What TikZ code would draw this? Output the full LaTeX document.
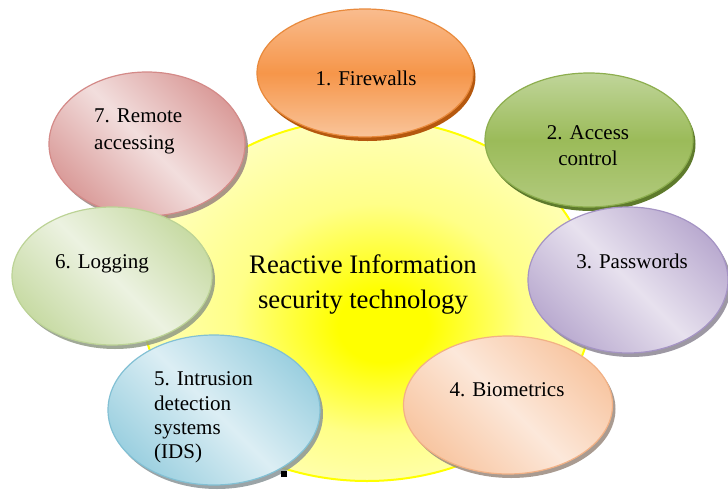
\documentclass[tikz,border=0pt]{standalone}
\usepackage{fontspec}
\setmainfont{Liberation Serif}
\usetikzlibrary{shapes.geometric,shadows}
\definecolor{cYel}{HTML}{FFFF00}
\definecolor{cYelM}{HTML}{FFFF88}
\definecolor{cYelL}{HTML}{FFFFC8}
\definecolor{fwT}{HTML}{F9BC8E}
\definecolor{fwM}{HTML}{F6964A}
\definecolor{fwB}{HTML}{F9C49A}
\definecolor{fwD}{HTML}{E98A3C}
\definecolor{fwR}{HTML}{B5580E}
\definecolor{acT}{HTML}{C0D59A}
\definecolor{acM}{HTML}{9BBB59}
\definecolor{acB}{HTML}{B2CA7E}
\definecolor{acD}{HTML}{8DAE4E}
\definecolor{acR}{HTML}{5E7A2C}
\definecolor{pwK}{HTML}{BAABD0}
\definecolor{pwL}{HTML}{E7E1EE}
\definecolor{pwD}{HTML}{A594C4}
\definecolor{pwS}{HTML}{8C8794}
\definecolor{bmK}{HTML}{F8C6A2}
\definecolor{bmL}{HTML}{FCE8DA}
\definecolor{bmD}{HTML}{F2B185}
\definecolor{bmS}{HTML}{9B8A7E}
\definecolor{idK}{HTML}{9CD0E0}
\definecolor{idL}{HTML}{DCEEF4}
\definecolor{idD}{HTML}{82C0D4}
\definecolor{idS}{HTML}{8A9598}
\definecolor{lgK}{HTML}{C8DBA5}
\definecolor{lgL}{HTML}{ECF2E1}
\definecolor{lgD}{HTML}{BCD396}
\definecolor{lgS}{HTML}{909A85}
\definecolor{rmK}{HTML}{DA9C9A}
\definecolor{rmL}{HTML}{F2DEDD}
\definecolor{rmD}{HTML}{D48A88}
\definecolor{rmS}{HTML}{9A8480}
\pgfdeclareradialshading{ctrshade}{\pgfpoint{2bp}{-4bp}}{color(0bp)=(cYel); color(5bp)=(cYel); color(16bp)=(cYelM); color(30bp)=(cYelL); color(50bp)=(cYelL)}
\tikzset{
  oval/.style={ellipse, inner sep=0pt, line width=1.2pt},
  rimshadow/.style={drop shadow={shadow xshift=2.5pt, shadow yshift=-4pt, fill=#1, opacity=1}},
  grayshadow/.style={drop shadow={shadow xshift=3pt, shadow yshift=-4pt, fill=#1, opacity=0.85}},
  diag/.style n args={2}{top color=#1, bottom color=#1, middle color=#2, shading angle=-45},
  lbl/.style={font=\fontsize{21}{25}\selectfont, inner sep=0pt, anchor=base},
  lbll/.style={font=\fontsize{21}{25}\selectfont, inner sep=0pt, anchor=base west},
  big/.style={font=\fontsize{26.7}{32}\selectfont, inner sep=0pt, anchor=base}
}
\begin{document}
\begin{tikzpicture}[x=1pt,y=-1pt]
\useasboundingbox (0,0) rectangle (728,493);
\fill[white] (0,0) rectangle (728,493);
% central ellipse
\node[oval, minimum width=452pt, minimum height=362pt, shade, shading=ctrshade, draw=cYel, line width=2pt] (ctr) at (367,300) {};
% outer ellipses
\node[oval, minimum width=196pt, minimum height=144pt, grayshadow=rmS, diag={rmK}{rmL}, draw=rmD] (rm) at (147,144) {};
\node[oval, minimum width=216pt, minimum height=128pt, rimshadow=fwR, top color=fwT, bottom color=fwB, middle color=fwM, draw=fwD] (fw) at (365,73) {};
\node[oval, minimum width=208pt, minimum height=134pt, rimshadow=acR, top color=acT, bottom color=acB, middle color=acM, draw=acD] (ac) at (589,140) {};
\node[oval, minimum width=200pt, minimum height=146pt, grayshadow=pwS, diag={pwK}{pwL}, draw=pwD] (pw) at (628,280) {};
\node[oval, minimum width=209pt, minimum height=138pt, grayshadow=bmS, diag={bmK}{bmL}, draw=bmD] (bm) at (508,405) {};
\node[oval, minimum width=212pt, minimum height=150pt, grayshadow=idS, diag={idK}{idL}, draw=idD] (id) at (214,410) {};
\node[oval, minimum width=200pt, minimum height=138pt, grayshadow=lgS, diag={lgK}{lgL}, draw=lgD] (lg) at (112,276) {};
\node[fill=black, inner sep=0pt, minimum size=6pt] (blk) at (284,474) {};
% texts
\node[big] (c1) at (363,273) {Reactive Information};
\node[big] (c2) at (363,308) {security technology};
\node[lbl] (t1) at (366,85) {1. Firewalls};
\node[lbl] (t2a) at (588,139) {2. Access};
\node[lbl] (t2b) at (588,165) {control};
\node[lbl] (t3) at (632,268) {3. Passwords};
\node[lbl] (t4) at (507,396) {4. Biometrics};
\node[lbll] (t5a) at (154,385) {5. Intrusion};
\node[lbll] (t5b) at (154,410) {detection};
\node[lbll] (t5c) at (154,434) {systems};
\node[lbll] (t5d) at (154,458) {(IDS)};
\node[lbl] (t6) at (102,268) {6. Logging};
\node[lbll] (t7a) at (94,122) {7. Remote};
\node[lbll] (t7b) at (94,149) {accessing};
\end{tikzpicture}
\end{document}
